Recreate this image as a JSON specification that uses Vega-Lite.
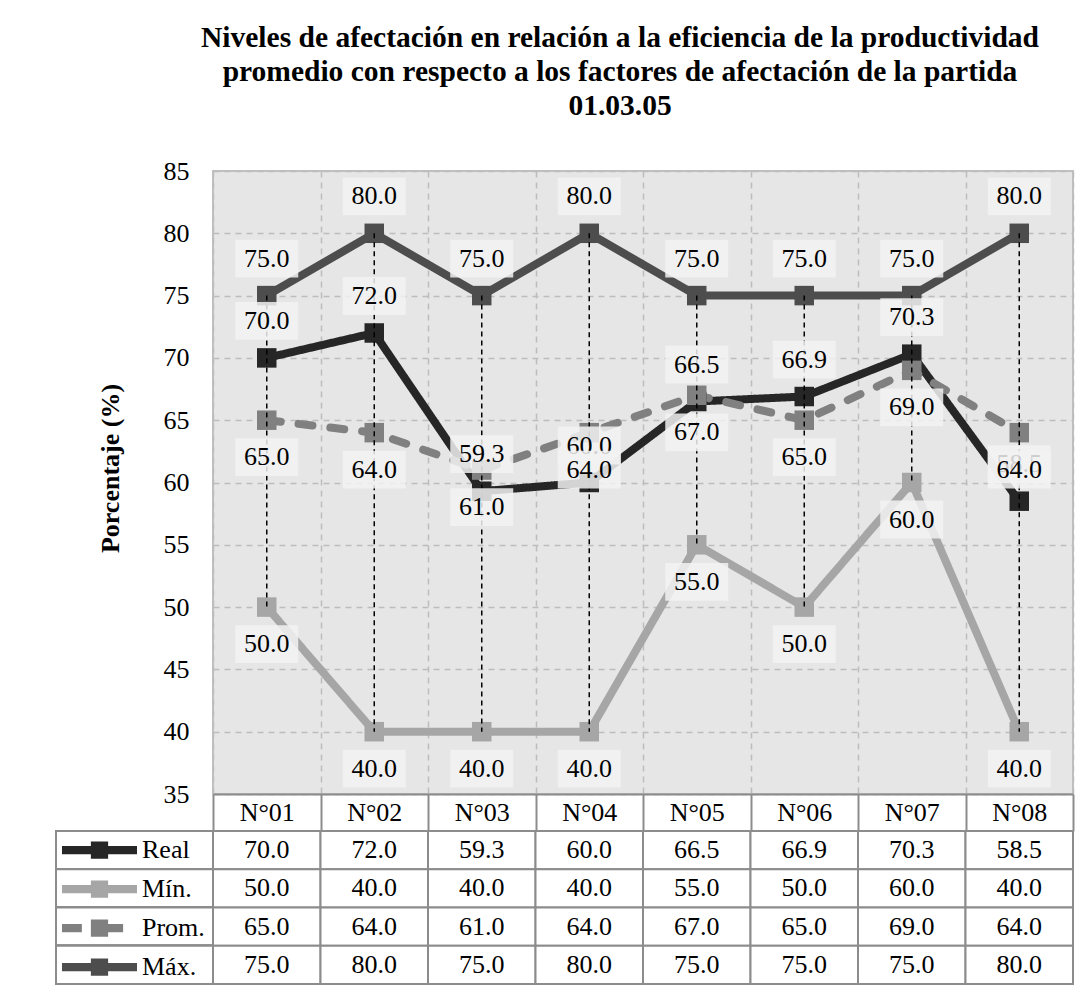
{
  "$schema": "https://vega.github.io/schema/vega-lite/v6.json",
  "background": "white",
  "padding": {"left": 55, "top": 22, "right": 10, "bottom": 5},
  "config": {
    "font": "Liberation Serif",
    "view": {"stroke": null},
    "axis": {"labelFont": "Liberation Serif", "titleFont": "Liberation Serif", "labelColor": "black", "titleColor": "black"},
    "legend": {"labelFont": "Liberation Serif", "labelColor": "black"}
  },
  "title": {
    "text": ["Niveles de afectación en relación a la eficiencia de la productividad", "promedio con respecto a los factores de afectación de la partida", "01.03.05"],
    "font": "Liberation Serif", "fontSize": 29.5, "fontWeight": "bold", "color": "black",
    "lineHeight": 34, "anchor": "middle", "dx": 55, "offset": 36
  },
  "datasets": {
    "d": [
      {"cat": "N°01", "serie": "Real", "valor": 70.0},
      {"cat": "N°02", "serie": "Real", "valor": 72.0},
      {"cat": "N°03", "serie": "Real", "valor": 59.3},
      {"cat": "N°04", "serie": "Real", "valor": 60.0},
      {"cat": "N°05", "serie": "Real", "valor": 66.5},
      {"cat": "N°06", "serie": "Real", "valor": 66.9},
      {"cat": "N°07", "serie": "Real", "valor": 70.3},
      {"cat": "N°08", "serie": "Real", "valor": 58.5},
      {"cat": "N°01", "serie": "Mín.", "valor": 50.0},
      {"cat": "N°02", "serie": "Mín.", "valor": 40.0},
      {"cat": "N°03", "serie": "Mín.", "valor": 40.0},
      {"cat": "N°04", "serie": "Mín.", "valor": 40.0},
      {"cat": "N°05", "serie": "Mín.", "valor": 55.0},
      {"cat": "N°06", "serie": "Mín.", "valor": 50.0},
      {"cat": "N°07", "serie": "Mín.", "valor": 60.0},
      {"cat": "N°08", "serie": "Mín.", "valor": 40.0},
      {"cat": "N°01", "serie": "Prom.", "valor": 65.0},
      {"cat": "N°02", "serie": "Prom.", "valor": 64.0},
      {"cat": "N°03", "serie": "Prom.", "valor": 61.0},
      {"cat": "N°04", "serie": "Prom.", "valor": 64.0},
      {"cat": "N°05", "serie": "Prom.", "valor": 67.0},
      {"cat": "N°06", "serie": "Prom.", "valor": 65.0},
      {"cat": "N°07", "serie": "Prom.", "valor": 69.0},
      {"cat": "N°08", "serie": "Prom.", "valor": 64.0},
      {"cat": "N°01", "serie": "Máx.", "valor": 75.0},
      {"cat": "N°02", "serie": "Máx.", "valor": 80.0},
      {"cat": "N°03", "serie": "Máx.", "valor": 75.0},
      {"cat": "N°04", "serie": "Máx.", "valor": 80.0},
      {"cat": "N°05", "serie": "Máx.", "valor": 75.0},
      {"cat": "N°06", "serie": "Máx.", "valor": 75.0},
      {"cat": "N°07", "serie": "Máx.", "valor": 75.0},
      {"cat": "N°08", "serie": "Máx.", "valor": 80.0}
    ]
  },
  "resolve": {"legend": {"color": "independent", "shape": "independent", "strokeDash": "independent"}, "scale": {"color": "independent", "shape": "independent", "strokeDash": "independent", "y": "independent", "x": "independent"}},
  "columns": 2,
  "spacing": {"row": 37, "column": 0},
  "bounds": "flush",
  "concat": [
    {"width": 157, "height": 623, "data": {"values": []}, "mark": "point"},
    {
      "width": 860,
      "height": 623,
      "data": {"name": "d"},
      "view": {"fill": "#e6e6e6", "stroke": "#bfbfbf", "strokeWidth": 2},
      "encoding": {
        "x": {
          "field": "cat", "type": "nominal", "bandPosition": 0.5,
          "scale": {"type": "band", "paddingInner": 0, "paddingOuter": 0},
          "axis": {
            "title": null, "orient": "bottom", "labelAngle": 0, "labelFontSize": 26,
            "labelBaseline": "middle", "labelPadding": -18.5,
            "tickBand": "extent", "ticks": true, "tickSize": 37, "tickColor": "#8c8c8c", "tickWidth": 2,
            "domainColor": "#8c8c8c", "domainWidth": 2,
            "grid": true, "gridColor": "#bdbdbd", "gridDash": [6, 5], "gridWidth": 1.5
          }
        },
        "y": {
          "field": "valor", "type": "quantitative",
          "scale": {"domain": [35, 85], "nice": false, "zero": false},
          "axis": {
            "values": [35, 40, 45, 50, 55, 60, 65, 70, 75, 80, 85],
            "title": "Porcentaje (%)", "titleFontSize": 26, "titleFontWeight": "bold", "titlePadding": 40, "titleY": 297,
            "labelFontSize": 26, "labelPadding": 24, "ticks": false, "domain": false,
            "grid": true, "gridColor": "#bdbdbd", "gridDash": [6, 5], "gridWidth": 1.5
          }
        }
      },
      "layer": [
        {
          "mark": {"type": "line", "strokeWidth": 8, "strokeCap": "round", "strokeJoin": "round"},
          "encoding": {
            "color": {"field": "serie", "type": "nominal", "scale": {"domain": ["Real", "Mín.", "Prom.", "Máx."], "range": ["#262626", "#a6a6a6", "#808080", "#4d4d4d"]}, "legend": null},
            "strokeDash": {"field": "serie", "type": "nominal", "scale": {"domain": ["Real", "Mín.", "Prom.", "Máx."], "range": [[1, 0], [1, 0], [14, 18], [1, 0]]}, "legend": null}
          }
        },
        {
          "mark": {"type": "point", "shape": "square", "filled": true, "size": 380, "opacity": 1},
          "encoding": {
            "color": {"field": "serie", "type": "nominal", "scale": {"domain": ["Real", "Mín.", "Prom.", "Máx."], "range": ["#262626", "#a6a6a6", "#808080", "#4d4d4d"]}, "legend": null}
          }
        },
        {
          "transform": [{"aggregate": [{"op": "max", "field": "valor", "as": "valor"}, {"op": "min", "field": "valor", "as": "vmin"}], "groupby": ["cat"]}],
          "mark": {"type": "rule", "color": "black", "strokeDash": [5, 4], "strokeWidth": 1.5},
          "encoding": {
            "y2": {"field": "vmin"}
          }
        },
        {
          "transform": [{"filter": {"field": "serie", "oneOf": ["Real", "Máx."]}}],
          "mark": {"type": "point", "shape": "M-1,-0.6H1V0.6H-1Z", "filled": true, "size": 3969, "color": "#f2f2f2", "opacity": 0.85, "yOffset": -37}
        },
        {
          "transform": [{"filter": {"field": "serie", "oneOf": ["Real", "Máx."]}}],
          "mark": {"type": "text", "fontSize": 26, "font": "Liberation Serif", "color": "black", "dy": -37, "baseline": "middle"},
          "encoding": {"text": {"field": "valor", "type": "quantitative", "format": ".1f"}}
        },
        {
          "transform": [{"filter": {"field": "serie", "oneOf": ["Mín.", "Prom."]}}],
          "mark": {"type": "point", "shape": "M-1,-0.6H1V0.6H-1Z", "filled": true, "size": 3969, "color": "#f2f2f2", "opacity": 0.85, "yOffset": 37}
        },
        {
          "transform": [{"filter": {"field": "serie", "oneOf": ["Mín.", "Prom."]}}],
          "mark": {"type": "text", "fontSize": 26, "font": "Liberation Serif", "color": "black", "dy": 37, "baseline": "middle"},
          "encoding": {"text": {"field": "valor", "type": "quantitative", "format": ".1f"}}
        }
      ]
    },
    {
      "width": 157,
      "height": 153,
      "data": {"name": "d"},
      "encoding": {
        "y": {"field": "serie", "type": "nominal", "scale": {"domain": ["Real", "Mín.", "Prom.", "Máx."], "paddingInner": 0, "paddingOuter": 0}, "axis": null}
      },
      "layer": [
        {"mark": {"type": "rect", "fill": "white", "stroke": "#8c8c8c", "strokeWidth": 2}},
        {
          "transform": [{"filter": "false"}],
          "mark": {"type": "point", "filled": true, "opacity": 1},
          "encoding": {
            "color": {
              "field": "serie", "type": "nominal",
              "scale": {"domain": ["Real", "Mín.", "Prom.", "Máx."], "range": ["#262626", "#a6a6a6", "#808080", "#4d4d4d"]},
              "legend": {"orient": "none", "legendX": 6, "legendY": 0, "title": null, "symbolSize": 5625, "symbolStrokeWidth": 0, "symbolOpacity": 1, "labelFontSize": 26, "labelOffset": 5, "rowPadding": 0, "clipHeight": 38.25, "padding": 0}
            },
            "shape": {
              "field": "serie", "type": "nominal",
              "scale": {"domain": ["Real", "Mín.", "Prom.", "Máx."], "range": ["M-1,-0.107H1V0.107H-1Z M-0.23,-0.23H0.23V0.23H-0.23Z", "M-1,-0.107H1V0.107H-1Z M-0.23,-0.23H0.23V0.23H-0.23Z", "M-1,-0.107H-0.47V0.107H-1Z M0,-0.107H0.63V0.107H0Z M-0.23,-0.23H0.23V0.23H-0.23Z", "M-1,-0.107H1V0.107H-1Z M-0.23,-0.23H0.23V0.23H-0.23Z"]},
              "legend": {"orient": "none", "legendX": 6, "legendY": 0, "title": null, "symbolSize": 5625, "symbolStrokeWidth": 0, "symbolOpacity": 1, "labelFontSize": 26, "labelOffset": 5, "rowPadding": 0, "clipHeight": 38.25, "padding": 0}
            }
          }
        }
      ]
    },
    {
      "width": 860,
      "height": 153,
      "data": {"name": "d"},
      "encoding": {
        "x": {"field": "cat", "type": "nominal", "scale": {"type": "band", "paddingInner": 0, "paddingOuter": 0}, "axis": null},
        "y": {"field": "serie", "type": "nominal", "scale": {"domain": ["Real", "Mín.", "Prom.", "Máx."], "paddingInner": 0, "paddingOuter": 0}, "axis": null}
      },
      "layer": [
        {"mark": {"type": "rect", "fill": "white", "stroke": "#8c8c8c", "strokeWidth": 2}},
        {
          "mark": {"type": "text", "fontSize": 26, "font": "Liberation Serif", "color": "black", "baseline": "middle"},
          "encoding": {"text": {"field": "valor", "type": "quantitative", "format": ".1f"}}
        }
      ]
    }
  ]
}
